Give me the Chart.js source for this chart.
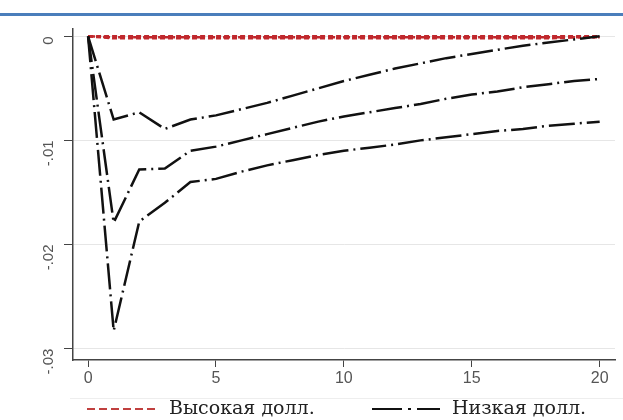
<!DOCTYPE html>
<html>
<head>
<meta charset="utf-8">
<script src="https://cdn.jsdelivr.net/npm/chart.js@4"></script>
<style>
  html, body { margin: 0; padding: 0; background: #fff; }
  #wrap { position: relative; width: 623px; height: 420px; overflow: hidden; }
  #topbar { position: absolute; left: 0; top: 13px; width: 623px; height: 3px; background: #4a7ebb; }
  #chart { position: absolute; left: 0; top: 0; }
  #legend { position: absolute; left: 70px; top: 398px; width: 553px; height: 22px;
    border-top: 1px solid #eee; font-family: "DejaVu Serif", "Liberation Serif", serif;
    font-size: 19px; color: #222; }
  .item { position: absolute; top: -3px; white-space: nowrap; }
  .item svg { vertical-align: middle; margin-right: 12px; }
</style>
</head>
<body>
<div id="wrap">
  <div id="topbar"></div>
  <canvas id="chart" width="623" height="420"></canvas>
  <div id="legend">
    <span class="item" style="left:17px">
      <svg width="70" height="8"><line x1="0" y1="4" x2="70" y2="4" stroke="#c0403f" stroke-width="2" stroke-dasharray="8,4"/></svg>Высокая долл.
    </span>
    <span class="item" style="left:302px">
      <svg width="68" height="8"><line x1="0" y1="4" x2="68" y2="4" stroke="#111" stroke-width="2" stroke-dasharray="30,6,3,6,23"/></svg>Низкая долл.
    </span>
  </div>
</div>
<script>
const steps = [0, 1, 2, 3, 4, 5, 6, 7, 8, 9, 10, 11, 12, 13, 14, 15, 16, 17, 18, 19, 20];

// Высокая долл. (response and bands, all close to zero)
const highMid = [0, -0.0001, -0.0001, -0.0001, -0.0001, -0.0001, -0.0001, -0.0001, -0.0001, -0.0001, -0.0001, -0.0001, -0.0001, -0.0001, -0.0001, -0.0001, -0.0001, -0.0001, -0.0001, -0.0001, -0.0001];
const highUp = [0, 0, 0, 0, 0, 0, 0, 0, 0, 0, 0, 0, 0, 0, 0, 0, 0, 0, 0, 0, 0];
const highLow = [0, -0.0002, -0.0002, -0.0002, -0.0002, -0.0002, -0.0002, -0.0002, -0.0002, -0.0002, -0.0002, -0.0002, -0.0002, -0.0002, -0.0002, -0.0002, -0.0002, -0.0002, -0.0002, -0.0001, -0.0001];

// Низкая долл.
const lowUp = [0, -0.0080, -0.0073, -0.0089, -0.0080, -0.0076, -0.0070, -0.0064, -0.0057, -0.0050, -0.0043, -0.0037, -0.0031, -0.0026, -0.0021, -0.0017, -0.0013, -0.0009, -0.0006, -0.0003, 0];
const lowMid = [0, -0.0179, -0.0128, -0.0127, -0.0110, -0.0106, -0.0100, -0.0094, -0.0088, -0.0082, -0.0077, -0.0073, -0.0069, -0.0065, -0.0060, -0.0056, -0.0053, -0.0049, -0.0046, -0.0043, -0.0041];
const lowLow = [0, -0.0283, -0.0178, -0.0160, -0.0140, -0.0137, -0.0130, -0.0124, -0.0119, -0.0114, -0.0110, -0.0107, -0.0104, -0.0100, -0.0097, -0.0094, -0.0091, -0.0089, -0.0086, -0.0084, -0.0082];

const xTicks = [0, 5, 10, 15, 20];
const yTicks = [0, -0.01, -0.02, -0.03];

const red = "#c0282d";
const black = "#111";

function series(vals, color, dash, width) {
  return {
    data: steps.map((s, i) => ({ x: s, y: vals[i] })),
    borderColor: color,
    borderWidth: width,
    borderDash: dash,
    pointRadius: 0,
    tension: 0,
    fill: false
  };
}

function fmtY(v) {
  if (Math.abs(v) < 1e-9) return "0";
  return (v < 0 ? "-" : "") + String(Math.abs(v)).replace(/^0/, "");
}

new Chart(document.getElementById("chart"), {
  type: "line",
  data: {
    datasets: [
      series(lowUp, black, [26, 5, 2, 5], 2.5),
      series(lowMid, black, [26, 5, 2, 5], 2.5),
      series(lowLow, black, [26, 5, 2, 5], 2.5),
      series(highUp, red, [5, 3], 2.5),
      series(highLow, red, [5, 3], 2.5),
      series(highMid, red, [7, 3, 2, 3], 2.5)
    ]
  },
  options: {
    responsive: false,
    animation: false,
    layout: { padding: { top: 29, right: 8, left: 0, bottom: 0 } },
    plugins: { legend: { display: false }, tooltip: { enabled: false } },
    scales: {
      x: {
        type: "linear",
        min: -0.59,
        max: 20.6,
        afterBuildTicks: (axis) => { axis.ticks = xTicks.map(v => ({ value: v })); },
        afterFit: (axis) => { axis.height = 60; },
        ticks: {
          color: "#555",
          font: { family: "Liberation Sans, Arial, sans-serif", size: 16 },
          padding: 2,
          maxRotation: 0
        },
        grid: { drawOnChartArea: false, drawTicks: true, tickLength: 7, tickColor: "#444", lineWidth: 1 },
        border: { color: "#444", width: 1.5 }
      },
      y: {
        min: -0.0311,
        max: 0.0007,
        afterBuildTicks: (axis) => { axis.ticks = yTicks.map(v => ({ value: v })); },
        afterFit: (axis) => { axis.width = 73; },
        ticks: {
          color: "#555",
          font: { family: "Liberation Sans, Arial, sans-serif", size: 15 },
          padding: 15,
          minRotation: 90,
          maxRotation: 90,
          callback: (v) => fmtY(v)
        },
        grid: { color: "#e6e6e6", drawTicks: true, tickLength: 9, tickColor: "#444", lineWidth: 1 },
        border: { color: "#444", width: 1.5 }
      }
    }
  }
});
</script>
</body>
</html>
